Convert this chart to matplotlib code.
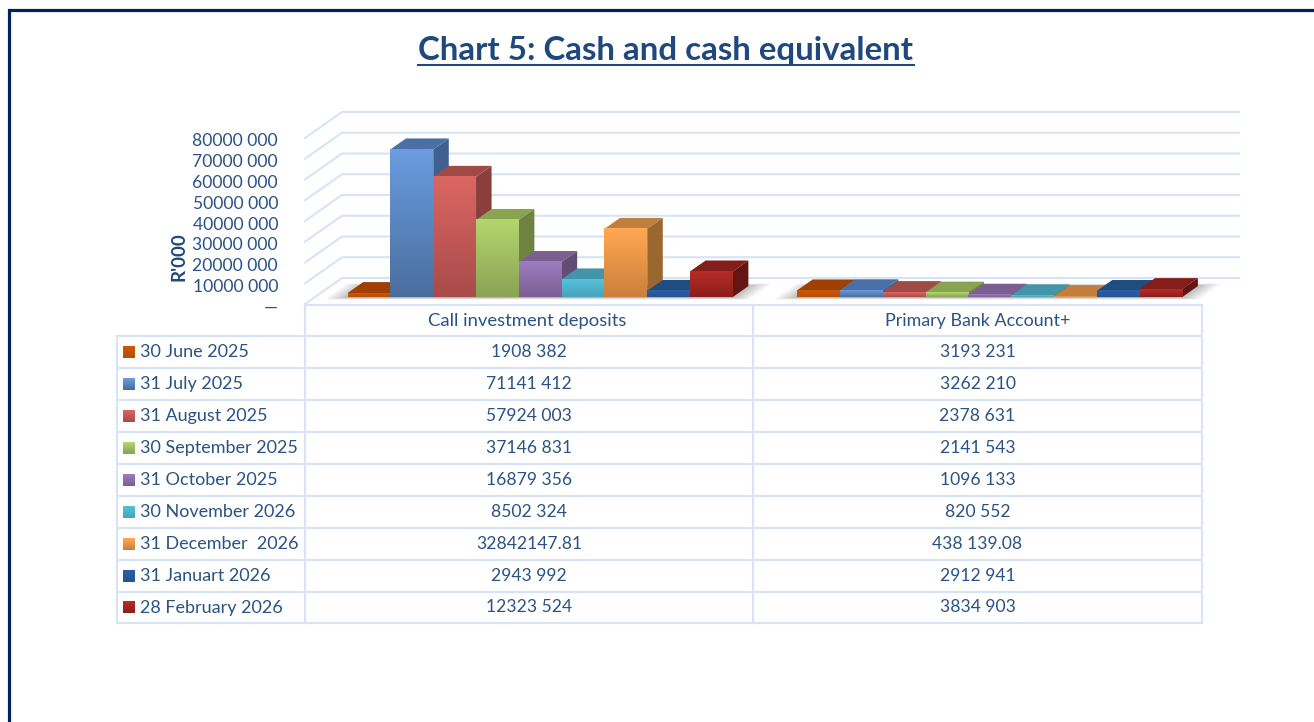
import numpy as np
import matplotlib
matplotlib.use("Agg")
import matplotlib.pyplot as plt
from matplotlib.colors import to_rgb
from matplotlib.patches import Polygon
from matplotlib.transforms import ScaledTranslation

plt.rcParams['font.family'] = ['Lato', 'DejaVu Sans']

# ---------- data ----------
title = "Chart 5: Cash and cash equivalent"
categories = ["Call investment deposits", "Primary Bank Account+"]
dates = ["30 June 2025", "31 July 2025", "31 August 2025", "30 September 2025",
         "31 October 2025", "30 November 2026", "31 December  2026",
         "31 Januart 2026", "28 February 2026"]
call_values = [1908382, 71141412, 57924003, 37146831, 16879356, 8502324,
               32842147.81, 2943992, 12323524]
primary_values = [3193231, 3262210, 2378631, 2141543, 1096133, 820552,
                  438139.08, 2912941, 3834903]
call_labels = ["1908 382", "71141 412", "57924 003", "37146 831", "16879 356",
               "8502 324", "32842147.81", "2943 992", "12323 524"]
primary_labels = ["3193 231", "3262 210", "2378 631", "2141 543", "1096 133",
                  "820 552", "438 139.08", "2912 941", "3834 903"]
y_ticks = [0, 10e6, 20e6, 30e6, 40e6, 50e6, 60e6, 70e6, 80e6]
y_tick_labels = ["—", "10000 000", "20000 000", "30000 000", "40000 000",
                 "50000 000", "60000 000", "70000 000", "80000 000"]

# ---------- style ----------
front_top = ["#C85A0A", "#6A9CDF", "#DB6662", "#B4D66E", "#9C7DBF", "#56C1DC", "#FFA851", "#2A60A6", "#B62C28"]
front_bot = ["#B84E05", "#4A6E9F", "#A84C4A", "#8AA355", "#7C5E94", "#47A3BB", "#CC7F3D", "#25558F", "#8C1E1C"]
top_col   = ["#A04000", "#4A70A5", "#A04A45", "#8AA350", "#7A5F90", "#4595AA", "#C07F3E", "#204C80", "#851D1A"]
side_col  = ["#843500", "#40618F", "#8A3F3D", "#6E8342", "#614C75", "#3A7F91", "#9A672F", "#1C4270", "#651613"]
grid_col = "#D6E4F6"
text_col = "#2A5285"
W, H = 1314, 722

fig = plt.figure(figsize=(W / 100, H / 100), dpi=100, facecolor="white")

# pixel-space layer for frame and table
px = fig.add_axes([0, 0, 1, 1], zorder=3)
px.set_xlim(0, W)
px.set_ylim(H, 0)
px.axis("off")
px.patch.set_alpha(0)

# plot axes: the front plane of the 3-D box
ax = fig.add_axes([305 / W, 1 - 304 / H, 897 / W, 166 / H], zorder=2)
ax.patch.set_alpha(0)
for s in ax.spines.values():
    s.set_visible(False)

XU = 448.5      # px per category
YU = 166 / 80e6 # px per value
DX = 37 / XU    # depth shift of the back wall, data units
DY = 26 / YU


def proj(x, y, d):
    return x + d * DX, y + d * DY


# gridlines on side wall and back wall
for v in y_ticks:
    pts = [proj(-0.5, v, 0), proj(-0.5, v, 1), proj(1.5, v, 1)]
    ax.plot(*zip(*pts), color=grid_col, lw=1.5, clip_on=False, zorder=1,
            solid_joinstyle="miter")

BAR_W = 42.8 / XU
D0, D1 = 0.27, 0.69
n = len(dates)
z = 5


def shadow(start):
    global z
    x0 = start
    x1 = start + n * BAR_W
    for g in np.linspace(1, 0, 18) ** 1.5:
        gx = (-6 + 26 * g) / XU
        gd = 0.10 * g
        pts = [proj(x0 - gx, 0, D0 - gd), proj(x1 + gx, 0, D0 - gd),
               proj(x1 + gx, 0, D1 + gd), proj(x0 - gx, 0, D1 + gd)]
        ax.add_patch(Polygon(pts, closed=True, fc="#404040", ec="none",
                             alpha=0.035, clip_on=False, zorder=z))


def bar3d(x0, v, i):
    global z
    x1 = x0 + BAR_W
    z += 1
    ax.add_patch(Polygon([proj(x0, v, D0), proj(x1, v, D0), proj(x1, v, D1), proj(x0, v, D1)],
                         closed=True, fc=top_col[i], ec="none", clip_on=False, zorder=z))
    ax.add_patch(Polygon([proj(x1, 0, D0), proj(x1, 0, D1), proj(x1, v, D1), proj(x1, v, D0)],
                         closed=True, fc=side_col[i], ec="none", clip_on=False, zorder=z))
    z += 1
    c0, c1 = np.array(to_rgb(front_bot[i])), np.array(to_rgb(front_top[i]))
    t = np.linspace(1, 0, 48)[:, None]
    grad = (c0 * (1 - t) + c1 * t)[:, None, :]
    fx0, fy0 = proj(x0, 0, D0)
    fx1, fy1 = proj(x1, v, D0)
    ax.imshow(grad, extent=[fx0, fx1, fy0, fy1], aspect="auto", origin="upper",
              interpolation="bilinear", clip_on=False, zorder=z)


for cx, vals in zip([0, 1], [call_values, primary_values]):
    start = cx - n * BAR_W / 2 + (1 + cx) / XU
    z += 1
    shadow(start)
    z += 1
    for i, v in enumerate(vals):
        bar3d(start + i * BAR_W, v, i)

ax.set_xlim(-0.5, 1.5)
ax.set_ylim(0, 80e6)
ax.set_xticks([])
ax.set_yticks(y_ticks, y_tick_labels)
ax.tick_params(axis="y", length=0, pad=19.4, labelsize=12.6, labelcolor=text_col)
shift = ScaledTranslation(0, -2 / 100, fig.dpi_scale_trans)
for lab in ax.get_yticklabels():
    lab.set_transform(lab.get_transform() + shift)
ax.set_ylabel("R'000", fontsize=13.5, fontweight="bold", color="#1F497D")
ax.yaxis.set_label_coords(187, 257, transform=px.transData)

# frame
px.plot([9, 9, W], [H, 9.8, 9.8], color="#00205F", lw=2.3, solid_joinstyle="miter", clip_on=True)

# title
px.text(666, 50.5, title, fontsize=23.8, fontweight="bold", color="#1F497D", ha="center", va="center")
px.plot([418, 914], [65, 65], color="#1F497D", lw=1.5)

# table
col_x = [117, 305, 753, 1202]
row_y = [305, 336, 368, 400, 432, 464, 496, 528, 560, 592, 623]
px.plot([col_x[1], col_x[3]], [row_y[0], row_y[0]], color=grid_col, lw=1.5)
for y in row_y[1:]:
    px.plot([col_x[0], col_x[3]], [y, y], color=grid_col, lw=1.5)
px.plot([col_x[0], col_x[0]], [row_y[1], row_y[-1]], color=grid_col, lw=1.5)
for x in col_x[1:]:
    px.plot([x, x], [row_y[0], row_y[-1]], color=grid_col, lw=1.5)

FS = 12.6
FS_HEAD = [13.3, 12.9]
FS_DATE = 12.95
mid = [(a + b) / 2 for a, b in zip(row_y[:-1], row_y[1:])]
px.text((col_x[1] + col_x[2]) / 2 - 1.5, mid[0] + 0.5, categories[0], fontsize=FS_HEAD[0], color=text_col, ha="center", va="center")
px.text((col_x[2] + col_x[3]) / 2, mid[0] + 0.5, categories[1], fontsize=FS_HEAD[1], color=text_col, ha="center", va="center")
for i in range(n):
    y = mid[i + 1]
    c0, c1 = np.array(to_rgb(front_bot[i])), np.array(to_rgb(front_top[i]))
    t = np.linspace(0, 1, 12)[:, None]
    px.imshow((c1 * (1 - t) + c0 * t)[:, None, :], extent=[123, 135, y + 6, y - 6],
              aspect="auto", origin="upper", interpolation="bilinear", zorder=4)
    px.text(140, y, dates[i], fontsize=FS_DATE, color=text_col, ha="left", va="center")
    px.text((col_x[1] + col_x[2]) / 2, y, call_labels[i], fontsize=FS, color=text_col, ha="center", va="center")
    px.text((col_x[2] + col_x[3]) / 2, y, primary_labels[i], fontsize=FS, color=text_col, ha="center", va="center")
px.set_xlim(0, W)
px.set_ylim(H, 0)

fig.savefig("out.png", dpi=100, facecolor="white")
